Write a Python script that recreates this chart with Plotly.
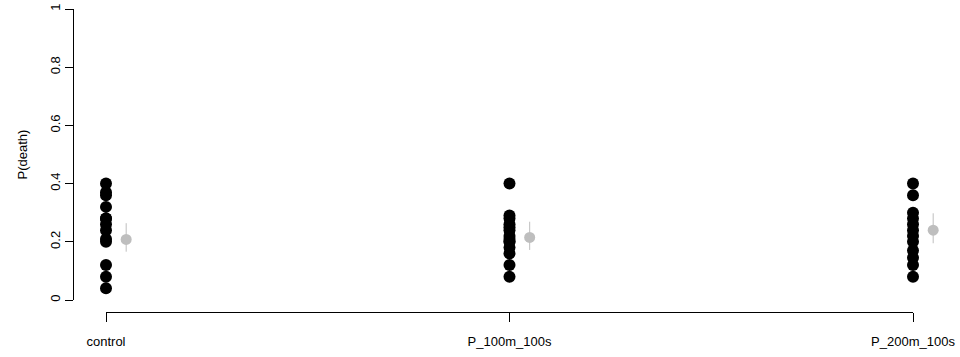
import plotly.graph_objects as go

categories = ["control", "P_100m_100s", "P_200m_100s"]
control_vals = [0.04, 0.08, 0.12, 0.2, 0.21, 0.24, 0.26, 0.28, 0.28, 0.32, 0.36, 0.37, 0.4]
p100_vals = [0.08, 0.12, 0.16, 0.18, 0.2, 0.2, 0.21, 0.22, 0.24, 0.25, 0.26, 0.28, 0.29, 0.4]
p200_vals = [0.08, 0.12, 0.145, 0.17, 0.2, 0.22, 0.24, 0.26, 0.28, 0.3, 0.36, 0.4]
est_mean = [0.208, 0.215, 0.24]
est_low = [0.166, 0.172, 0.195]
est_high = [0.264, 0.269, 0.298]
y_ticks = [0, 0.2, 0.4, 0.6, 0.8, 1]
y_ticktext = ["0", "0.2", "0.4", "0.6", "0.8", "1"]

W, H = 960, 357
offset = 0.05
x0_px, x2_px = 106, 913
px_per_unit = (x2_px - x0_px) / 2
x2_max = 2.08

fig = go.Figure()
for i, vals in enumerate([control_vals, p100_vals, p200_vals]):
    fig.add_trace(go.Scatter(
        x=[i] * len(vals), y=vals, mode="markers",
        marker=dict(color="black", size=12, line=dict(width=0)),
        cliponaxis=False, showlegend=False, hoverinfo="y"))

fig.add_trace(go.Scatter(
    x=[i + offset for i in range(len(categories))], y=est_mean, mode="markers",
    xaxis="x2",
    marker=dict(color="#bebebe", size=11, line=dict(width=0)),
    error_y=dict(type="data", symmetric=False,
                 array=[h - m for h, m in zip(est_high, est_mean)],
                 arrayminus=[m - l for m, l in zip(est_mean, est_low)],
                 color="#bebebe", thickness=1, width=0),
    cliponaxis=False, showlegend=False))

fig.update_layout(
    template="none",
    width=W, height=H,
    margin=dict(l=0, r=0, t=0, b=0, pad=0),
    plot_bgcolor="rgba(0,0,0,0)", paper_bgcolor="white",
    font=dict(family="Liberation Sans, Arial, sans-serif", color="black"),
    xaxis=dict(
        domain=[x0_px / W, x2_px / W], range=[0, 2], autorange=False,
        anchor="free", position=(H - 312) / H, automargin=False,
        showgrid=False, zeroline=False, showline=True, linecolor="black", linewidth=1,
        tickmode="array", tickvals=list(range(len(categories))), ticktext=categories,
        ticks="outside", ticklen=9, tickcolor="black", tickwidth=1,
        tickfont=dict(size=13), ticklabelstandoff=8,
    ),
    xaxis2=dict(
        domain=[x0_px / W, min(1.0, (x0_px + x2_max * px_per_unit) / W)], range=[0, x2_max],
        autorange=False, anchor="free", position=0,
        visible=False, automargin=False,
    ),
    yaxis=dict(
        domain=[(H - 300) / H, (H - 9) / H], range=[0, 1], autorange=False,
        anchor="free", position=73 / W, automargin=False,
        showgrid=False, zeroline=False, showline=True, linecolor="black", linewidth=1,
        tickmode="array", tickvals=y_ticks, ticktext=y_ticktext,
        ticks="outside", ticklen=8, tickcolor="black", tickwidth=1,
        tickangle=-90, tickfont=dict(size=13),
        title=dict(text="P(death)", font=dict(size=13), standoff=16),
    ),
)

fig.write_html("out.html")
